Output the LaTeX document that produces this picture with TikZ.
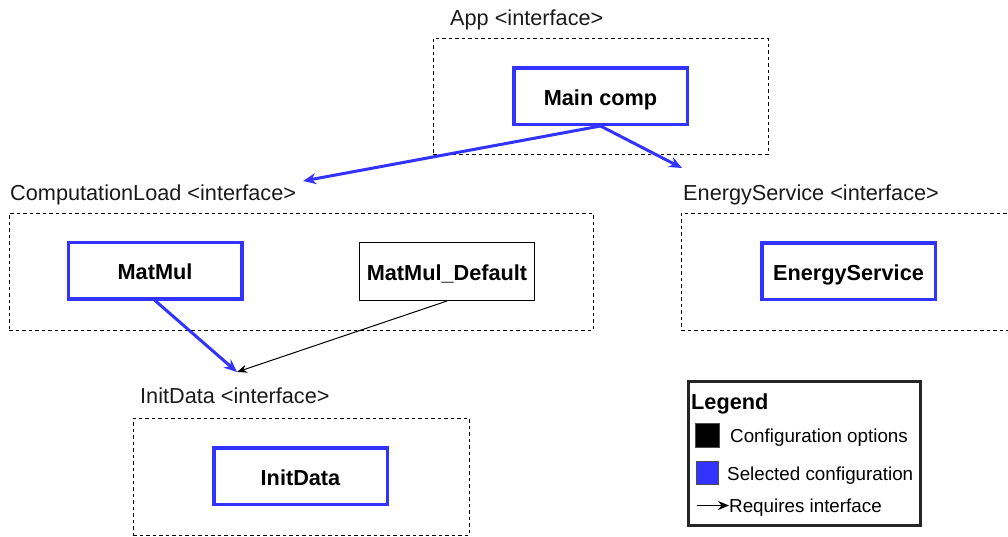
\documentclass[tikz,border=0pt]{standalone}
\usepackage{fontspec}
\setmainfont{Liberation Sans}
\usetikzlibrary{arrows.meta}
\definecolor{sel}{HTML}{3333FF}
\definecolor{txt}{HTML}{1A1A1A}
\begin{document}
\begin{tikzpicture}[x=1pt,y=-1pt,
  iface/.style={draw, dash pattern=on 3.5pt off 3pt, line width=1pt, inner sep=0pt},
  lbl/.style={anchor=base west, inner sep=0pt, text=txt, font=\fontsize{21.7}{26}\selectfont},
  boxfont/.style={font=\bfseries\fontsize{21.7}{26}\selectfont, text height=18pt, text depth=0pt},
  selbox/.style={boxfont, draw=sel, line width=3.5pt, inner sep=0pt, minimum width=173.5pt, minimum height=56.5pt},
  optbox/.style={boxfont, draw, line width=1pt, inner sep=0pt, minimum width=175pt, minimum height=58pt},
  selarrow/.style={draw=sel, line width=3pt, -{Stealth[length=13pt,width=11pt]}},
  reqarrow/.style={draw, line width=1pt, -{Stealth[length=10pt,width=8pt]}},
  legtxt/.style={anchor=base west, inner sep=0pt, font=\fontsize{18.8}{22}\selectfont},
]
\useasboundingbox (0,0) rectangle (1008,536);

% interface frames
\node[iface, minimum width=335pt, minimum height=116pt] (appf) at (600.5,96) {};
\node[iface, minimum width=584pt, minimum height=117pt] (clf) at (301,271.5) {};
\node[iface, minimum width=335pt, minimum height=117pt] (esf) at (848.5,271.5) {};
\node[iface, minimum width=336pt, minimum height=117pt] (idf) at (301,476.5) {};

% interface labels
\node[lbl] (appl) at (450,25) {App <interface>};
\node[lbl] (cll) at (10,200) {ComputationLoad <interface>};
\node[lbl] (esl) at (683,200) {EnergyService <interface>};
\node[lbl] (idl) at (140,403) {InitData <interface>};

% components
\node[selbox] (main) at (600.5,96) {Main comp};
\node[selbox] (matmul) at (155,270.5) {MatMul};
\node[optbox] (matdef) at (447,271.5) {MatMul\_Default};
\node[selbox] (energy) at (848.5,271) {EnergyService};
\node[selbox] (init) at (300.5,476) {InitData};

% arrow end points
\coordinate (clin) at (303,181);
\coordinate (esin) at (682,168);
\coordinate (idin) at (237,372);

\draw[selarrow] (main.south) -- (clin);
\draw[selarrow] (main.south) -- (esin);
\draw[selarrow] (matmul.south) -- (idin);
\draw[reqarrow] (matdef.south) -- (idin);

% legend
\node[draw=black!85, line width=3pt, minimum width=232pt, minimum height=144pt, inner sep=0pt] (legend) at (804.5,453.5) {};
\node[anchor=base west, inner sep=0pt, font=\bfseries\fontsize{21.7}{26}\selectfont] (legt) at (691,409) {Legend};
\node[draw=black!70, fill=black, line width=1pt, minimum size=24pt, inner sep=0pt] (sqblack) at (707.5,435.5) {};
\node[legtxt] (l1) at (730,442) {Configuration options};
\node[draw=black!70, fill=sel, line width=1pt, minimum width=22pt, minimum height=23pt, inner sep=0pt] (sqblue) at (707.5,473) {};
\node[legtxt] (l2) at (727,480) {Selected configuration};
\node[legtxt] (l3) at (729,512) {Requires interface};
\coordinate (arrs) at (697,505.5);
\draw[line width=1.2pt, -{Stealth[length=11pt,width=9pt]}] (arrs) -- (l3.west |- arrs);
\end{tikzpicture}
\end{document}
